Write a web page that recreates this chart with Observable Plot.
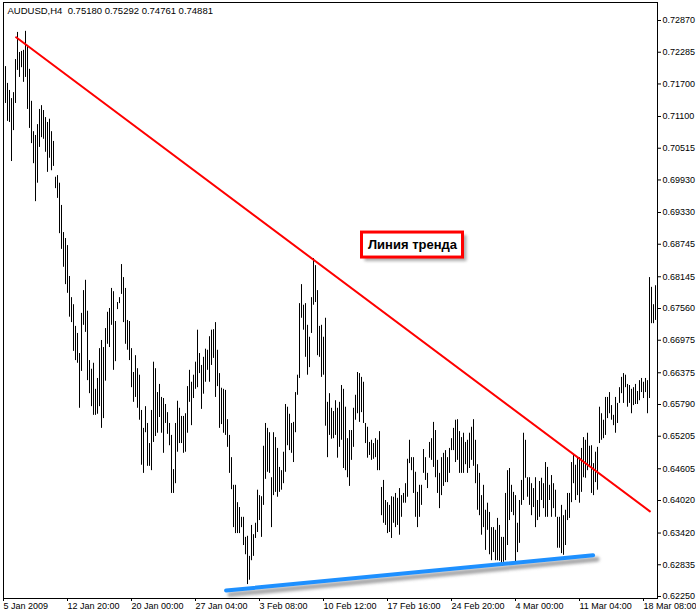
<!DOCTYPE html>
<html><head><meta charset="utf-8">
<script src="https://cdn.jsdelivr.net/npm/d3@7"></script>
<script src="https://cdn.jsdelivr.net/npm/@observablehq/plot@0.6"></script>
<style>html,body{margin:0;padding:0;background:#fff;} svg{display:block;}</style>
</head><body><div id="chart"></div>
<script>
const symbolHeader = "AUDUSD,H4\u00a0\u00a00.75180 0.75292 0.74761 0.74881";

const barHigh = [
0.7175,0.7202,0.7171,0.7158,0.7143,0.7154,0.7215,0.7265,0.7228,0.7230,
0.7232,0.7267,0.7241,0.7197,0.7138,0.7082,0.7075,0.7095,0.7123,0.7130,
0.7121,0.7108,0.7099,0.7105,0.7082,0.7064,0.6998,0.7001,0.6987,0.6946,
0.6896,0.6885,0.6872,0.6815,0.6776,0.6763,0.6723,0.6710,0.6673,0.6747,
0.6789,0.6808,0.6751,0.6660,0.6644,0.6655,0.6607,0.6627,0.6682,0.6697,
0.6684,0.6719,0.6749,0.6756,0.6793,0.6787,0.6732,0.6767,0.6776,0.6837,
0.6813,0.6793,0.6734,0.6732,0.6682,0.6638,0.6669,0.6645,0.6633,0.6568,
0.6535,0.6575,0.6544,0.6507,0.6568,0.6657,0.6645,0.6601,0.6616,0.6592,
0.6590,0.6579,0.6564,0.6544,0.6522,0.6459,0.6544,0.6585,0.6572,0.6557,
0.6557,0.6562,0.6612,0.6642,0.6620,0.6633,0.6657,0.6716,0.6673,0.6651,
0.6666,0.6681,0.6679,0.6704,0.6716,0.6717,0.6730,0.6679,0.6636,0.6609,
0.6607,0.6605,0.6551,0.6522,0.6481,0.6430,0.6430,0.6398,0.6389,0.6371,
0.6371,0.6334,0.6336,0.6299,0.6356,0.6339,0.6360,0.6421,0.6411,0.6409,
0.6502,0.6544,0.6535,0.6527,0.6444,0.6527,0.6518,0.6498,0.6463,0.6457,
0.6491,0.6579,0.6574,0.6561,0.6544,0.6546,0.6601,0.6633,0.6765,0.6800,
0.6762,0.6765,0.6725,0.6703,0.6776,0.6848,0.6835,0.6789,0.6723,0.6725,
0.6703,0.6738,0.6583,0.6599,0.6572,0.6566,0.6586,0.6572,0.6583,0.6614,
0.6607,0.6574,0.6516,0.6531,0.6531,0.6572,0.6596,0.6638,0.6636,0.6629,
0.6620,0.6544,0.6537,0.6509,0.6513,0.6507,0.6516,0.6513,0.6529,0.6426,
0.6439,0.6402,0.6398,0.6393,0.6409,0.6408,0.6415,0.6406,0.6424,0.6411,
0.6415,0.6433,0.6478,0.6513,0.6481,0.6481,0.6454,0.6417,0.6430,0.6430,
0.6496,0.6481,0.6452,0.6509,0.6516,0.6546,0.6531,0.6476,0.6452,0.6481,
0.6489,0.6494,0.6481,0.6498,0.6516,0.6535,0.6550,0.6551,0.6529,0.6518,
0.6526,0.6509,0.6513,0.6526,0.6537,0.6551,0.6513,0.6468,0.6452,0.6411,
0.6430,0.6384,0.6397,0.6380,0.6352,0.6352,0.6347,0.6369,0.6356,0.6334,
0.6334,0.6415,0.6457,0.6461,0.6430,0.6417,0.6411,0.6360,0.6402,0.6439,
0.6526,0.6513,0.6444,0.6444,0.6433,0.6424,0.6444,0.6402,0.6437,0.6443,
0.6433,0.6472,0.6463,0.6430,0.6448,0.6433,0.6421,0.6371,0.6371,0.6393,
0.6374,0.6384,0.6415,0.6415,0.6472,0.6485,0.6467,0.6480,0.6481,0.6498,
0.6518,0.6513,0.6526,0.6502,0.6503,0.6470,0.6491,0.6500,0.6574,0.6562,
0.6550,0.6592,0.6592,0.6601,0.6577,0.6559,0.6592,0.6581,0.6610,0.6629,
0.6636,0.6633,0.6616,0.6614,0.6607,0.6610,0.6616,0.6603,0.6623,0.6627,
0.6620,0.6627,0.6623,0.6813,0.6795,0.6763,0.6798,0.6927
];

const barLow = [
0.7071,0.7134,0.7101,0.7099,0.7027,0.7084,0.7134,0.7195,0.7182,0.7200,
0.7173,0.7182,0.7123,0.7088,0.7060,0.7023,0.6953,0.6987,0.7053,0.7071,
0.7068,0.7044,0.7007,0.7033,0.7010,0.7018,0.6977,0.6959,0.6894,0.6865,
0.6832,0.6800,0.6784,0.6740,0.6730,0.6677,0.6660,0.6655,0.6572,0.6640,
0.6725,0.6712,0.6623,0.6599,0.6575,0.6559,0.6559,0.6561,0.6575,0.6535,
0.6553,0.6622,0.6690,0.6684,0.6725,0.6642,0.6658,0.6754,0.6765,0.6782,
0.6730,0.6690,0.6679,0.6660,0.6610,0.6583,0.6592,0.6572,0.6550,0.6467,
0.6452,0.6527,0.6465,0.6465,0.6457,0.6509,0.6520,0.6526,0.6555,0.6526,
0.6489,0.6544,0.6524,0.6503,0.6415,0.6415,0.6433,0.6491,0.6507,0.6507,
0.6489,0.6491,0.6526,0.6583,0.6540,0.6590,0.6607,0.6610,0.6636,0.6570,
0.6598,0.6620,0.6642,0.6620,0.6651,0.6664,0.6592,0.6612,0.6535,0.6542,
0.6526,0.6522,0.6500,0.6452,0.6422,0.6352,0.6341,0.6341,0.6341,0.6352,
0.6319,0.6302,0.6247,0.6255,0.6291,0.6299,0.6332,0.6343,0.6365,0.6334,
0.6393,0.6441,0.6454,0.6452,0.6352,0.6411,0.6417,0.6408,0.6417,0.6421,
0.6433,0.6454,0.6503,0.6494,0.6489,0.6472,0.6527,0.6596,0.6627,0.6738,
0.6716,0.6666,0.6633,0.6647,0.6710,0.6762,0.6767,0.6669,0.6666,0.6629,
0.6633,0.6539,0.6481,0.6522,0.6515,0.6516,0.6522,0.6480,0.6500,0.6513,
0.6461,0.6457,0.6444,0.6428,0.6476,0.6500,0.6550,0.6562,0.6546,0.6564,
0.6544,0.6507,0.6480,0.6485,0.6476,0.6478,0.6481,0.6457,0.6457,0.6374,
0.6360,0.6356,0.6341,0.6343,0.6332,0.6360,0.6352,0.6356,0.6338,0.6371,
0.6397,0.6397,0.6408,0.6470,0.6457,0.6415,0.6371,0.6352,0.6371,0.6393,
0.6452,0.6439,0.6424,0.6480,0.6476,0.6463,0.6444,0.6415,0.6387,0.6411,
0.6428,0.6435,0.6435,0.6452,0.6494,0.6494,0.6472,0.6476,0.6452,0.6452,
0.6452,0.6468,0.6452,0.6461,0.6476,0.6465,0.6433,0.6384,0.6374,0.6338,
0.6352,0.6310,0.6347,0.6302,0.6291,0.6306,0.6291,0.6291,0.6290,0.6286,
0.6288,0.6291,0.6319,0.6365,0.6380,0.6374,0.6286,0.6306,0.6323,0.6393,
0.6402,0.6443,0.6408,0.6393,0.6374,0.6389,0.6352,0.6365,0.6371,0.6402,
0.6387,0.6371,0.6371,0.6402,0.6371,0.6387,0.6371,0.6314,0.6314,0.6304,
0.6301,0.6319,0.6365,0.6369,0.6398,0.6433,0.6402,0.6411,0.6397,0.6417,
0.6444,0.6443,0.6457,0.6465,0.6415,0.6411,0.6435,0.6421,0.6507,0.6513,
0.6516,0.6522,0.6553,0.6562,0.6550,0.6540,0.6526,0.6544,0.6581,0.6599,
0.6581,0.6610,0.6574,0.6581,0.6562,0.6577,0.6579,0.6579,0.6586,0.6601,
0.6590,0.6601,0.6562,0.6590,0.6728,0.6728,0.6734,0.6793
];

const priceTicks = [0.72870,0.72285,0.71700,0.71100,0.70515,0.69930,0.69330,0.68745,0.68145,0.67560,0.66975,0.66375,0.65790,0.65205,0.64605,0.64020,0.63420,0.62835,0.62250];
const dateTickBars = [0,32,64,96,128,160,192,224,256,288,320];
const dateTickLabels = ["5 Jan 2009","12 Jan 20:00","20 Jan 00:00","27 Jan 04:00","3 Feb 08:00","10 Feb 12:00","17 Feb 16:00","24 Feb 20:00","4 Mar 00:00","11 Mar 04:00","18 Mar 08:00"];

const resistanceBars = [6.3, 323.2];
const resistancePrices = [0.7256, 0.6382];
const supportBars = [111.3, 294.8];
const supportPrices = [0.6236, 0.6301];

const labelText = "Линия тренда";
const labelBar = 204.5;
const labelPrice = 0.6873;

const bars = barHigh.map((h, i) => ({i, high: h, low: barLow[i]}));
const res = resistanceBars.map((b, k) => ({b, p: resistancePrices[k]}));
const sup = supportBars.map((b, k) => ({b, p: supportPrices[k]}));
const labelMap = new Map(dateTickBars.map((b, k) => [b, dateTickLabels[k]]));
const FONT = "'Liberation Sans', Arial, sans-serif";
const SHADOW = "#6e6e6f";

const chart = Plot.plot({
  width: 696, height: 616,
  marginLeft: 3, marginRight: 39, marginTop: 2, marginBottom: 18,
  x: {type: "linear", domain: [0, 327], axis: null},
  y: {type: "linear", domain: [0.6221312, 0.7320187], axis: null},
  style: {fontFamily: FONT, fontSize: "9px", background: "#fff", color: "#000", overflow: "visible"},
  marks: [
    Plot.ruleX(bars, {x: "i", y1: "low", y2: "high", stroke: "#000", strokeWidth: 1}),
    Plot.line(sup, {x: "b", y: "p", stroke: SHADOW, strokeWidth: 5, strokeOpacity: 0.6, dx: 4, dy: 4}),
    Plot.line(sup, {x: "b", y: "p", stroke: "#1e90ff", strokeWidth: 4, strokeLinecap: "round"}),
    Plot.line(res, {x: "b", y: "p", stroke: "#ff0000", strokeWidth: 2}),
    Plot.text([{b: labelBar, p: labelPrice, t: labelText}], {x: "b", y: "p", text: "t", fontSize: 13, fontWeight: "bold", fontFamily: FONT, fill: "#000"}),
    Plot.text([symbolHeader], {frameAnchor: "top-left", dx: 4, dy: 5, lineAnchor: "top", textAnchor: "start", fontSize: 9.5, fill: "#000"}),
    Plot.frame({stroke: "#000"}),
    Plot.axisY(priceTicks, {anchor: "right", tickSize: 3, tickPadding: 2, tickFormat: d => d.toFixed(5), label: null, fontSize: 9}),
    Plot.axisX(dateTickBars, {anchor: "bottom", tickSize: 3, tickPadding: 1, tickFormat: d => labelMap.get(d), textAnchor: "start", label: null, fontSize: 9})
  ]
});
document.getElementById("chart").appendChild(chart);

// decorations: blur for the line shadow, framed box behind the label
const NS = "http://www.w3.org/2000/svg";
const defs = document.createElementNS(NS, "defs");
defs.innerHTML = '<filter id="shblur" x="-20%" y="-100%" width="140%" height="300%"><feGaussianBlur stdDeviation="1.6"/></filter>';
chart.insertBefore(defs, chart.firstChild);
chart.querySelectorAll("[stroke]").forEach(el => {
  if ((el.getAttribute("stroke") || "").toLowerCase() === SHADOW) el.setAttribute("filter", "url(#shblur)");
});

const lblText = Array.from(chart.querySelectorAll("text")).find(t => t.textContent === labelText);
if (lblText) {
  const cx = chart.scale("x").apply(labelBar);
  const cy = chart.scale("y").apply(labelPrice);
  const w = 101, h = 25;
  let group = lblText;
  while (group.parentNode && group.parentNode !== chart) group = group.parentNode;
  const sh = document.createElementNS(NS, "rect");
  sh.setAttribute("x", cx - w / 2 + 3); sh.setAttribute("y", cy - h / 2 + 3);
  sh.setAttribute("width", w + 1); sh.setAttribute("height", h + 1);
  sh.setAttribute("fill", "#777"); sh.setAttribute("opacity", "0.6");
  sh.setAttribute("filter", "url(#shblur)");
  const box = document.createElementNS(NS, "rect");
  box.setAttribute("x", cx - w / 2); box.setAttribute("y", cy - h / 2);
  box.setAttribute("width", w); box.setAttribute("height", h);
  box.setAttribute("fill", "#fff"); box.setAttribute("stroke", "#ff0000"); box.setAttribute("stroke-width", 3);
  chart.insertBefore(sh, group);
  chart.insertBefore(box, group);
}
</script>
</body></html>
